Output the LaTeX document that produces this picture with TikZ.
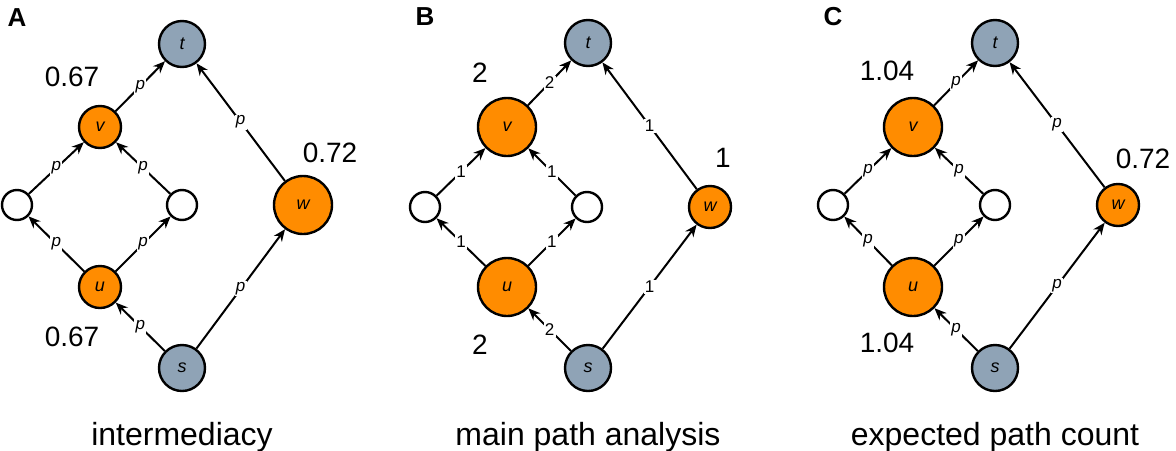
\documentclass[tikz,border=0pt]{standalone}
\usepackage{fontspec}
\setmainfont{Liberation Sans}
\usetikzlibrary{arrows.meta}
\definecolor{nodeorange}{HTML}{FF8C00}
\definecolor{nodegray}{HTML}{8FA3B6}
\tikzset{
  vert/.style={circle,draw,line width=1.2pt,inner sep=0pt,font=\fontsize{9}{9}\selectfont\itshape},
  term/.style={vert,fill=nodegray,minimum size=23pt},
  blank/.style={vert,fill=white,minimum size=15pt},
  hit/.style={vert,fill=nodeorange,minimum size=21pt},
  bighit/.style={vert,fill=nodeorange,minimum size=29pt},
  link/.style={line width=1pt,-{Stealth[length=6pt,width=5pt]}},
  wt/.style={midway,fill=white,inner sep=0.6pt,font=\fontsize{8.5}{8.5}\selectfont},
  pw/.style={wt,font=\fontsize{8.5}{8.5}\selectfont\itshape},
  score/.style={font=\fontsize{14}{14}\selectfont},
  caption/.style={anchor=base,font=\fontsize{16}{16}\selectfont},
  panel/.style={font=\fontsize{13}{13}\selectfont\bfseries}
}
\begin{document}
\begin{tikzpicture}[x=0.5pt,y=-0.5pt]
    \useasboundingbox (0,0) rectangle (1176,450);
    % A
    \node[panel] (la) at (17,18) {A};
    \node[term] (ta) at (182,44) {t};
    \node[hit] (va) at (100,127) {v};
    \node[blank] (pa) at (17,205) {};
    \node[blank] (qa) at (182,205) {};
    \node[bighit] (wa) at (303,205) {w};
    \node[hit] (ua) at (100,287) {u};
    \node[term] (sa) at (182,368) {s};
    \draw[link] (sa) -- node[pw]{p} (ua);
    \draw[link] (ua) -- node[pw]{p} (pa);
    \draw[link] (ua) -- node[pw]{p} (qa);
    \draw[link] (pa) -- node[pw]{p} (va);
    \draw[link] (qa) -- node[pw]{p} (va);
    \draw[link] (va) -- node[pw]{p} (ta);
    \draw[link] (sa) -- node[pw]{p} (wa);
    \draw[link] (wa) -- node[pw]{p} (ta);
    \node[score] (xa) at (72,77) {0.67};
    \node[score] (ya) at (72,337) {0.67};
    \node[score] (za) at (330,153) {0.72};
    \node[caption] (ca) at (182,445) {intermediacy};
    % B
    \node[panel] (lb) at (425,17) {B};
    \node[term] (tb) at (588,43) {t};
    \node[bighit] (vb) at (507,127) {v};
    \node[blank] (pb) at (425,207) {};
    \node[blank] (qb) at (587,207) {};
    \node[hit] (wb) at (710,207) {w};
    \node[bighit] (ub) at (507,287) {u};
    \node[term] (sb) at (588,368) {s};
    \draw[link] (sb) -- node[wt]{2} (ub);
    \draw[link] (ub) -- node[wt]{1} (pb);
    \draw[link] (ub) -- node[wt]{1} (qb);
    \draw[link] (pb) -- node[wt]{1} (vb);
    \draw[link] (qb) -- node[wt]{1} (vb);
    \draw[link] (vb) -- node[wt]{2} (tb);
    \draw[link] (sb) -- node[wt]{1} (wb);
    \draw[link] (wb) -- node[wt]{1} (tb);
    \node[score] (xb) at (480,73) {2};
    \node[score] (yb) at (480,345) {2};
    \node[score] (zb) at (723,158) {1};
    \node[caption] (cb) at (588,445) {main path analysis};
    % C
    \node[panel] (lc) at (833,17) {C};
    \node[term] (tc) at (995,43) {t};
    \node[bighit] (vc) at (913,127) {v};
    \node[blank] (pc) at (833,205) {};
    \node[blank] (qc) at (995,205) {};
    \node[hit] (wc) at (1118,205) {w};
    \node[bighit] (uc) at (913,287) {u};
    \node[term] (sc) at (995,368) {s};
    \draw[link] (sc) -- node[pw]{p} (uc);
    \draw[link] (uc) -- node[pw]{p} (pc);
    \draw[link] (uc) -- node[pw]{p} (qc);
    \draw[link] (pc) -- node[pw]{p} (vc);
    \draw[link] (qc) -- node[pw]{p} (vc);
    \draw[link] (vc) -- node[pw]{p} (tc);
    \draw[link] (sc) -- node[pw]{p} (wc);
    \draw[link] (wc) -- node[pw]{p} (tc);
    \node[score] (xc) at (887,71) {1.04};
    \node[score] (yc) at (887,343) {1.04};
    \node[score] (zc) at (1143,159) {0.72};
    \node[caption] (cc) at (995,445) {expected path count};
\end{tikzpicture}
\end{document}
